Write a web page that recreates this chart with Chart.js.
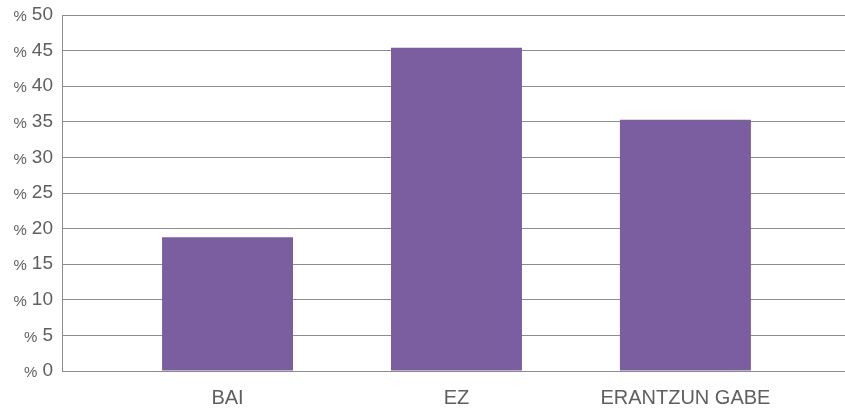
<!DOCTYPE html>
<html>
<head>
<meta charset="utf-8">
<script src="https://cdn.jsdelivr.net/npm/chart.js@4"></script>
<style>
  html, body { margin: 0; padding: 0; background: #fff; }
  #wrap { width: 845px; height: 413px; }
</style>
</head>
<body>
<div id="wrap"><canvas id="myChart"></canvas></div>
<script>
const categories = ['BAI', 'EZ', 'ERANTZUN GABE'];
const values = [18.8, 45.4, 35.3];
const yTicks = [0, 5, 10, 15, 20, 25, 30, 35, 40, 45, 50];

// y tick labels: small "%" in front of a bigger number
const percentLabels = {
  id: 'percentLabels',
  afterDraw(chart) {
    const y = chart.scales.y;
    const ctx = chart.ctx;
    ctx.save();
    ctx.fillStyle = '#5f5f5f';
    ctx.textBaseline = 'middle';
    ctx.textAlign = 'right';
    y.ticks.forEach(t => {
      const py = y.getPixelForValue(t.value);
      const num = String(t.value);
      ctx.font = '19px "Liberation Sans", Arial, sans-serif';
      ctx.fillText(num, 53, py);
      const w = ctx.measureText(num).width;
      ctx.font = '15px "Liberation Sans", Arial, sans-serif';
      ctx.fillText('%', 53 - w - 5, py + 2);
    });
    ctx.restore();
  }
};

const ctx = document.getElementById('myChart');
new Chart(ctx, {
  type: 'bar',
  data: {
    datasets: [{
      data: values.map((v, i) => ({ x: i, y: v })),
      backgroundColor: '#7a5ea0',
      borderWidth: 0,
      barPercentage: 0.572,
      categoryPercentage: 1
    }]
  },
  options: {
    responsive: true,
    maintainAspectRatio: false,
    animation: false,
    layout: { padding: { top: 15, right: 0, left: 0, bottom: 0 } },
    plugins: { legend: { display: false }, tooltip: { enabled: false } },
    scales: {
      x: {
        type: 'linear',
        offset: false,
        min: -0.723,
        max: 2.697,
        grid: { display: false, drawTicks: false },
        border: { display: false },
        afterBuildTicks: s => { s.ticks = categories.map((c, i) => ({ value: i })); },
        afterFit: s => { s.height = 42; },
        ticks: {
          autoSkip: false,
          maxRotation: 0,
          padding: 15,
          color: '#5f5f5f',
          font: { family: '"Liberation Sans", Arial, sans-serif', size: 20 },
          callback: v => categories[v]
        }
      },
      y: {
        min: 0,
        max: 50,
        afterBuildTicks: s => { s.ticks = yTicks.map(v => ({ value: v })); },
        afterFit: s => { s.width = 62; },
        grid: { color: '#8c8c8c', lineWidth: 1, drawTicks: false },
        border: { display: true, color: '#8c8c8c', width: 1 },
        ticks: { display: false }
      }
    }
  },
  plugins: [percentLabels]
});
</script>
</body>
</html>
